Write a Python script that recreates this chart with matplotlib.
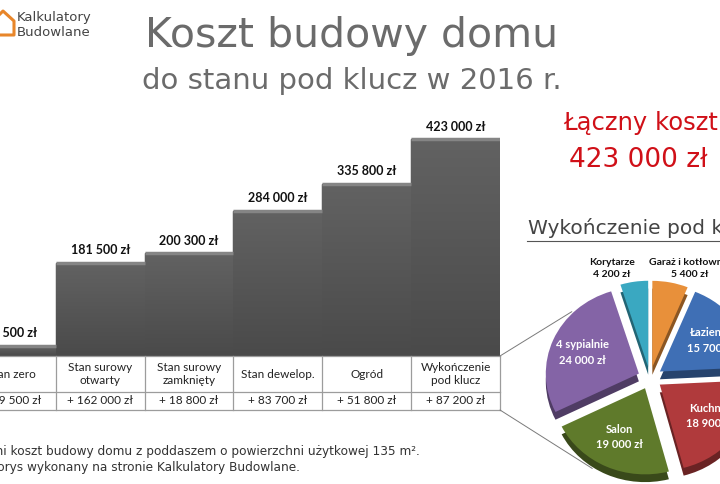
import matplotlib
matplotlib.use('Agg')
import matplotlib.pyplot as plt
import numpy as np
from matplotlib.patches import ConnectionPatch
from matplotlib.lines import Line2D

# data
stages = ['Stan zero', 'Stan surowy\notwarty', 'Stan surowy\nzamknięty',
          'Stan dewelop.', 'Ogród', 'Wykończenie\npod klucz']
increments = [19500, 162000, 18800, 83700, 51800, 87200]
totals = np.cumsum(increments)

rooms = ['Garaż i kotłownia', 'Łazienki', 'Kuchnia', 'Salon', '4 sypialnie', 'Korytarze']
room_costs = [5400, 15700, 18900, 19000, 24000, 4200]
room_colors = ['#e8903a', '#3f6fb5', '#b03a3c', '#5f7a2b', '#8464a6', '#3aa8c1']


def zl(v):
    return '{:,}'.format(int(v)).replace(',', ' ') + ' zł'


W, H = 720, 484
fig = plt.figure(figsize=(7.2, 4.84), dpi=100)
fig.patch.set_facecolor('white')


def box(x0, y0, x1, y1):
    # pixel box (top-left origin) -> figure fraction rect
    return [x0 / W, 1 - y1 / H, (x1 - x0) / W, (y1 - y0) / H]


body = 'Lato'
deco = 'DejaVu Sans'

# bar chart
ax = fig.add_axes(box(-33, 100, 500, 356))
ax.set_xlim(-0.5, 5.5)
ax.set_ylim(0, 500000)
ax.axis('off')
grad = np.linspace(1, 0, 100).reshape(-1, 1)
cmap = matplotlib.colors.LinearSegmentedColormap.from_list('g', ['#4a4a4a', '#626262'])
bars = ax.bar(np.arange(6), totals, width=1.0, color='#575757', edgecolor='#3a3a3a', linewidth=1.0)
for b, v in zip(bars, totals):
    im = ax.imshow(grad, cmap=cmap, aspect='auto', zorder=2,
                   extent=[b.get_x(), b.get_x() + b.get_width(), 0, v])
    im.set_clip_path(b)
    ax.plot([b.get_x(), b.get_x() + b.get_width()], [v, v], color='#858585', lw=2.5,
            solid_capstyle='butt', zorder=3)
    ax.text(b.get_x() + b.get_width() / 2, v + 13000, zl(v), ha='center', va='bottom',
            fontsize=9, fontweight='bold', family=body, color='#111111')
ax.set_xlim(-0.5, 5.5)
ax.set_ylim(0, 500000)

# table under the bars
tb = fig.add_axes(box(-33, 356, 500, 410))
tb.set_xlim(-0.5, 5.5)
tb.set_ylim(0, 3)
tb.axis('off')
lc = '#9c9c9c'
for yy in [0, 1, 3]:
    tb.plot([-0.5, 5.5], [yy, yy], color=lc, lw=0.9, clip_on=False)
for i in range(6):
    tb.plot([i + 0.5, i + 0.5], [0, 3], color=lc, lw=0.9, clip_on=False)
for i, (s, inc) in enumerate(zip(stages, increments)):
    tb.text(i, 2, s, ha='center', va='center', fontsize=8.5, family=body,
            color='#222222', linespacing=1.2)
    tb.text(i, 0.5, '+ ' + zl(inc), ha='center', va='center', fontsize=8.5,
            family=body, color='#222222')

# titles
fig.text(352 / W, 1 - 36 / H, 'Koszt budowy domu', ha='center', va='center',
         fontsize=29.5, family=deco, color='#6b6b6b')
fig.text(352 / W, 1 - 81 / H, 'do stanu pod klucz w 2016 r.', ha='center', va='center',
         fontsize=21, family=deco, color='#6b6b6b')

# logo
fig.add_artist(Line2D(np.array([-6, 3, 14, 14, -6]) / W, 1 - np.array([20, 11, 21, 35, 35]) / H,
                      color='#e8862a', lw=2.2))
fig.text(17 / W, 1 - 18 / H, 'Kalkulatory', ha='left', va='center', fontsize=9.5,
         family=deco, color='#444444')
fig.text(17 / W, 1 - 32 / H, 'Budowlane', ha='left', va='center', fontsize=9.5,
         family=deco, color='#444444')

# total cost
fig.text(641 / W, 1 - 123 / H, 'Łączny koszt', ha='center', va='center', fontsize=17.5,
         family=deco, color='#d01018')
fig.text(638 / W, 1 - 160 / H, zl(totals[-1]), ha='center', va='center', fontsize=19,
         family=deco, color='#d01018')

# pie heading
fig.text(528 / W, 1 - 228 / H, 'Wykończenie pod klucz', ha='left', va='center', fontsize=14.5,
         family=deco, color='#444444')
fig.add_artist(Line2D([527 / W, 1.0], [1 - 241 / H, 1 - 241 / H], color='#555555', lw=0.8))

# pie
pa = fig.add_axes(box(529, 266, 771, 490))
dark = [matplotlib.colors.to_rgb(c) for c in room_colors]
dark = [tuple(0.6 * np.array(c)) for c in dark]
explode = [0.13] * len(room_costs)
pa.pie(room_costs, colors=dark, startangle=90, counterclock=False, explode=explode,
       center=(0, -0.09), wedgeprops=dict(linewidth=0))
wedges, _ = pa.pie(room_costs, colors=room_colors, startangle=90, counterclock=False,
                   explode=explode, wedgeprops=dict(linewidth=0))
pa.set_aspect('auto')
pa.set_xlim(-1.3, 1.3)
pa.set_ylim(-1.3, 1.3)
pa.axis('off')
for w, name, cost in zip(wedges, rooms, room_costs):
    mid = np.deg2rad((w.theta1 + w.theta2) / 2)
    cx, cy = w.center
    if cost < 10000:
        continue
    pa.text(cx + 0.66 * np.cos(mid), cy + 0.62 * np.sin(mid), name + '\n' + zl(cost),
            ha='center', va='center', fontsize=8, fontweight='bold', family=body,
            color='white', linespacing=1.5)
pa.text(-0.41, 1.27, rooms[5] + '\n' + zl(room_costs[5]), ha='center', va='center',
        fontsize=7.5, fontweight='bold', family=body, color='#111111', linespacing=1.5,
        clip_on=False)
pa.text(0.43, 1.27, rooms[0] + '\n' + zl(room_costs[0]), ha='center', va='center',
        fontsize=7.5, fontweight='bold', family=body, color='#111111', linespacing=1.5,
        clip_on=False)

# connectors from the last table column to the pie
for (tx, ty), (px, py) in [((5.5, 3), (-0.84, 0.77)), ((5.5, 0), (-0.62, -1.05))]:
    fig.add_artist(ConnectionPatch((tx, ty), (px, py), coordsA=tb.transData,
                                   coordsB=pa.transData, color='#7a7a7a', lw=0.7))

# notes
fig.text(420 / W, 1 - 451 / H, 'Średni koszt budowy domu z poddaszem o powierzchni użytkowej 135 m².',
         ha='right', va='center', fontsize=8.7, family=deco, color='#333333')
fig.text(300 / W, 1 - 468 / H, 'Kosztorys wykonany na stronie Kalkulatory Budowlane.',
         ha='right', va='center', fontsize=8.7, family=deco, color='#333333')

fig.savefig('out.png', dpi=100, facecolor='white')
